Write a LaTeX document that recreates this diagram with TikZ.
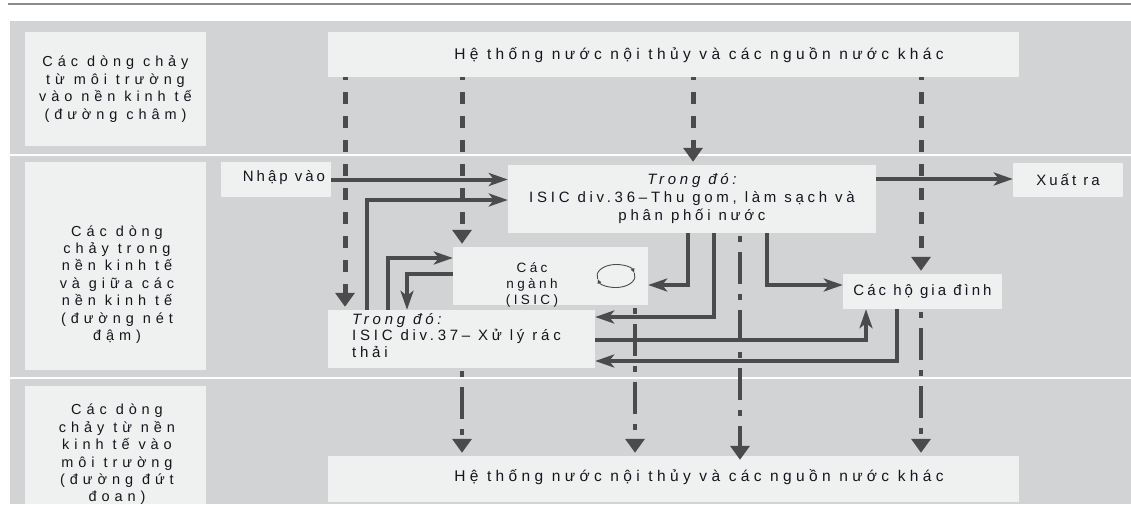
\documentclass[tikz,border=0pt]{standalone}
\usepackage{fontspec}
\setmainfont{Liberation Sans}[LetterSpace=20]
\newfontfamily\lsB{Liberation Sans}[LetterSpace=25]
\newfontfamily\lsC{Liberation Sans}[LetterSpace=28]
\newfontfamily\lsD{Liberation Sans}[LetterSpace=34]
\usetikzlibrary{arrows.meta}
\definecolor{bandc}{HTML}{D2D3D5}
\definecolor{boxc}{HTML}{EFF0F0}
\definecolor{linec}{HTML}{4B4B4D}
\definecolor{txtc}{HTML}{15151E}
\definecolor{rulec}{HTML}{8A8A8A}
\begin{document}
\begin{tikzpicture}[x=1pt,y=-1pt,
  box/.style={fill=boxc, draw=none, inner sep=0pt},
  txt/.style={text=txtc, font=\fontsize{15}{17.4}\selectfont, align=center, inner sep=0pt},
  lbltxt/.style={txt, font=\lsD\fontsize{14.5}{17.4}\selectfont},
  bigtxt/.style={txt, font=\lsC\fontsize{15.5}{18}\selectfont},
  solidarrow/.style={draw=linec, line width=4pt, -{Stealth[length=19pt,width=13pt,inset=5pt]}},
  envin/.style={draw=linec, line width=5pt, dash pattern=on 12pt off 12pt, dash phase=9pt, -{Triangle[length=14pt,width=19pt]}, shorten >=3pt},
  envout/.style={draw=linec, line width=4.5pt, dash pattern=on 32pt off 10pt on 6pt off 10pt, dash phase=39pt, -{Triangle[length=14pt,width=19pt]}, shorten >=3pt},
  cyc/.style={draw=linec, line width=0.9pt, -{Latex[length=4.5pt,width=4.5pt]}}
]
\useasboundingbox (0,0) rectangle (1131,504);
\fill[white] (0,0) rectangle (1131,504);
\draw[rulec, line width=1.3pt] (8,4) -- (1131,4);
\fill[bandc] (10,21) rectangle (1131,154);
\fill[bandc] (10,156) rectangle (1131,377);
\fill[bandc] (10,379) rectangle (1131,504);

% left labels
\node[box, lbltxt, minimum width=181pt, minimum height=114pt] (lbl1) at (115.5,89) {Các dòng chảy\\từ môi trường\\vào nền kinh tế\\(đường châm)};
\node[box, minimum width=181pt, minimum height=208pt] (lbl2) at (115.5,266) {};
\node[lbltxt] (lbl2t) at (117,284.5) {Các dòng\\chảy trong\\nền kinh tế\\và giữa các\\nền kinh tế\\(đường nét\\đậm)};
\node[box, minimum width=181pt, minimum height=118pt] (lbl3) at (115.5,445) {};
\node[lbltxt] (lbl3t) at (117,454.5) {Các dòng\\chảy từ nền\\kinh tế vào\\môi trường\\(đường đứt\\đoan)};

% environment boxes
\node[box, minimum width=691pt, minimum height=45pt] (env1) at (673.5,54.5) {};
\node[bigtxt] (env1t) at (699,55) {Hệ thống nước nội thủy và các nguồn nước khác};
\node[box, minimum width=691pt, minimum height=46pt] (env2) at (673.5,479) {};
\node[bigtxt] (env2t) at (699,477) {Hệ thống nước nội thủy và các nguồn nước khác};

% economy boxes
\node[box, minimum width=110pt, minimum height=35pt] (nhap) at (276,179.5) {};
\node[txt] (nhapt) at (284,178) {Nhập vào};
\node[box, txt, minimum width=110pt, minimum height=34pt] (xuat) at (1068,180) {Xuất ra};
\node[box, txt, font=\lsB\fontsize{15}{18}\selectfont, minimum width=368pt, minimum height=68pt] (b36) at (692,199) {{\itshape Trong đó:}\\ISIC div.36–Thu gom, làm sạch và\\phân phối nước};
\node[box, minimum width=195pt, minimum height=58pt] (nganh) at (550.5,276) {};
\node[txt, font=\lsB\fontsize{13.5}{16}\selectfont] (nganht) at (532,284.5) {Các\\ngành\\(ISIC)};
\node[box, minimum width=267pt, minimum height=58pt] (b37) at (461.5,339) {};
\node[txt, align=left, anchor=west, font=\lsB\fontsize{15}{16.5}\selectfont] (b37t) at (352,335.5) {{\itshape Trong đó:}\\ISIC div.37– Xử lý rác\\thải};
\node[box, txt, minimum width=159pt, minimum height=35pt] (hh) at (922.5,291.5) {Các hộ gia đình};

% cycle symbol
\draw[cyc] (597.65,278.98) arc[start angle=165, end angle=345, x radius=19, y radius=11.5];
\draw[cyc] (634.35,273.02) arc[start angle=345, end angle=525, x radius=19, y radius=11.5];

% flows from environment into economy (dashed)
\draw[envin] (345,0 |- env1.south) -- (345,0 |- b37.north);
\draw[envin] (462,0 |- env1.south) -- (462,0 |- nganh.north);
\draw[envin] (693,0 |- env1.south) -- (693,0 |- b36.north);
\draw[envin] (921,0 |- env1.south) -- (921,0 |- hh.north);

% flows from economy to environment (dash-dot)
\draw[envout] (462,0 |- b37.south) -- (462,0 |- env2.north);
\draw[envout] (635,0 |- nganh.south) -- (635,0 |- env2.north);
\draw[envout, shorten >=-4pt] (740,0 |- b36.south) -- (740,0 |- env2.north);
\draw[envout] (921,0 |- hh.south) -- (921,0 |- env2.north);

% flows within the economy (solid)
\draw[solidarrow] (nhap.east) -- (nhap.east -| b36.west);
\draw[solidarrow] (367,0 |- b37.north) |- (b36.west |- 0,200);
\draw[solidarrow] (388,0 |- b37.north) |- (nganh.west |- 0,258);
\draw[solidarrow] (nganh.west |- 0,274) -| (407,0 |- b37.north);
\draw[solidarrow] (688,0 |- b36.south) |- (nganh.east |- 0,285);
\draw[solidarrow] (714,0 |- b36.south) |- (b37.east |- 0,317);
\draw[solidarrow] (767,0 |- b36.south) |- (hh.west |- 0,285);
\draw[solidarrow] (b37.east |- 0,340) -| (866,0 |- hh.south);
\draw[solidarrow] (897,0 |- hh.south) |- (b37.east |- 0,361);
\draw[solidarrow] (b36.east |- 0,179) -- (xuat.west |- 0,179);
\end{tikzpicture}
\end{document}
